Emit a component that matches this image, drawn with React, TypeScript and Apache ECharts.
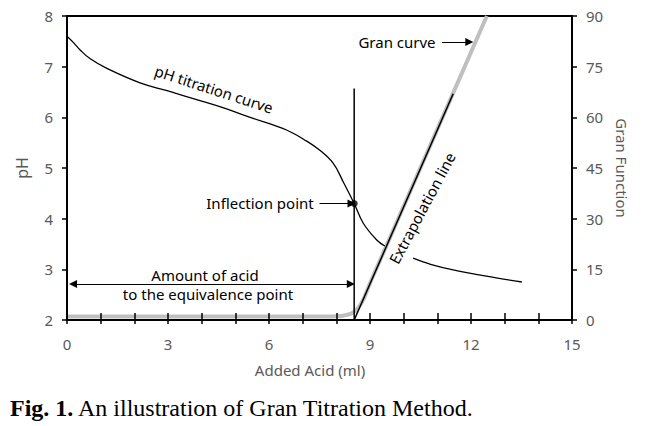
import React, { useEffect, useRef } from "react";
import * as echarts from "echarts";

const phVolumeA = [0, 0.2, 0.39, 0.68, 1.2, 2.17, 3, 4, 4.54, 5.53, 6.52, 7.12, 7.51, 7.91, 8.21, 8.53, 8.8, 9.2, 9.44];
const phValueA = [7.6, 7.47, 7.33, 7.16, 6.96, 6.68, 6.52, 6.32, 6.21, 5.98, 5.75, 5.53, 5.35, 5.09, 4.72, 4.3, 3.91, 3.58, 3.46];
const phVolumeB = [10.28, 10.8, 11.47, 12.5, 13.51];
const phValueB = [3.22, 3.1, 2.99, 2.86, 2.75];
const granVolume = [0, 4, 7, 8.0, 8.3, 8.5, 8.65, 8.8, 9.0, 9.3, 12.47];
const granValue = [1, 1, 1, 1.1, 1.5, 2.2, 3.6, 6, 10.9, 17.7, 90];
const eqVolume = 8.53;
const inflectionPH = 4.3;
const eqLineTopPH = 6.57;
const extrapVolume = [8.53, 11.47];
const extrapValue = [0, 67];
const xTickLabels = [0, 3, 6, 9, 12, 15];

const zip = (a: number[], b: number[]) => a.map((v, i) => [v, b[i]]);

const SANS = "Noto Sans";
const GRAY = "#595959";

export default function App() {
  const ref = useRef<HTMLDivElement>(null);
  useEffect(() => {
    document.body.style.margin = "0";
    const chart = echarts.init(ref.current!, null, { renderer: "svg" });
    const arrowLine = (pts: number[][][], sym: string[]) => ({
      silent: true,
      animation: false,
      symbol: sym,
      symbolSize: 8,
      label: { show: false },
      lineStyle: { color: "#000", width: 1, type: "solid" },
      emphasis: { disabled: true },
      data: pts.map((p) => [{ coord: p[0] }, { coord: p[1] }]),
    });
    const txt = (x: number, y: number, text: string, extra: any = {}, rotDeg = 0) => ({
      type: "text",
      x,
      y,
      rotation: (rotDeg * Math.PI) / 180,
      z: 10,
      style: { text, fontFamily: SANS, fontSize: 15, fill: "#000", textAlign: "center", textVerticalAlign: "middle", ...extra },
    });
    chart.setOption({
      animation: false,
      grid: { left: 67, right: 76, top: 16, bottom: 106, show: true, borderColor: "#000", borderWidth: 2, z: 0 },
      xAxis: [
        {
          type: "value",
          min: 0,
          max: 15,
          interval: 1,
          zlevel: 1,
          z: 6,
          axisLine: { show: true, onZero: false, lineStyle: { color: "#000", width: 2 } },
          axisTick: { show: true, inside: true, length: 7, lineStyle: { color: "#000", width: 1.5 } },
          axisLabel: {
            margin: 16,
            color: GRAY,
            fontFamily: SANS,
            fontSize: 15,
            formatter: (v: number) => (xTickLabels.includes(v) ? String(v) : ""),
          },
          splitLine: { show: false },
        },
        {
          type: "value",
          min: 0,
          max: 15,
          interval: 1,
          zlevel: 1,
          z: 6,
          position: "bottom",
          axisLine: { show: false, onZero: false },
          axisTick: { show: true, inside: false, length: 4, lineStyle: { color: "#000", width: 1.5 } },
          axisLabel: { show: false },
          splitLine: { show: false },
        },
      ],
      yAxis: [
        {
          type: "value",
          min: 2,
          max: 8,
          interval: 1,
          z: 6,
          axisLine: { show: true, onZero: false, lineStyle: { color: "#000", width: 2 } },
          axisTick: { show: true, length: 5, lineStyle: { color: "#000", width: 1.5 } },
          axisLabel: { margin: 14, color: GRAY, fontFamily: SANS, fontSize: 15 },
          splitLine: { show: false },
        },
        {
          type: "value",
          min: 0,
          max: 90,
          interval: 15,
          z: 6,
          position: "right",
          axisLine: { show: true, onZero: false, lineStyle: { color: "#000", width: 2 } },
          axisTick: { show: true, length: 5, lineStyle: { color: "#000", width: 1.5 } },
          axisLabel: { margin: 14, color: GRAY, fontFamily: SANS, fontSize: 15 },
          splitLine: { show: false },
        },
      ],
      series: [
        {
          type: "line",
          name: "Gran curve",
          yAxisIndex: 1,
          z: 1,
          data: zip(granVolume, granValue),
          smooth: 0.25,
          symbol: "none",
          lineStyle: { color: "#bfbfbf", width: 4 },
          silent: true,
        },
        {
          type: "line",
          name: "Extrapolation",
          yAxisIndex: 1,
          data: zip(extrapVolume, extrapValue),
          symbol: "none",
          lineStyle: { color: "#000", width: 1.5 },
          silent: true,
          markLine: arrowLine([[[11.14, 82.3], [11.95, 82.3]]], ["none", "triangle"]),
        },
        {
          type: "line",
          name: "pH A",
          data: zip(phVolumeA, phValueA),
          smooth: 0.4,
          symbol: "none",
          lineStyle: { color: "#000", width: 1.3 },
          silent: true,
        },
        {
          type: "line",
          name: "pH B",
          data: zip(phVolumeB, phValueB),
          smooth: 0.35,
          symbol: "none",
          lineStyle: { color: "#000", width: 1.3 },
          silent: true,
        },
        {
          type: "line",
          name: "Equivalence",
          data: [[eqVolume, 2], [eqVolume, eqLineTopPH]],
          symbol: "none",
          lineStyle: { color: "#000", width: 1.5 },
          silent: true,
          markLine: arrowLine(
            [
              [[7.5, inflectionPH], [8.45, inflectionPH]],
              [[0.18, 2.71], [8.43, 2.71]],
              [[4, 2.71], [0.18, 2.71]],
            ],
            ["none", "triangle"]
          ),
        },
        {
          type: "scatter",
          name: "Inflection",
          data: [[eqVolume, inflectionPH]],
          symbol: "circle",
          symbolSize: 7,
          itemStyle: { color: "#000" },
          silent: true,
        },
      ],
      graphic: [
        txt(22, 168, "pH", { fontSize: 16, fill: GRAY }, 90),
        txt(622, 168, "Gran Function", { fill: GRAY }, -90),
        txt(310, 370, "Added Acid (ml)", { fill: GRAY }),
        txt(214, 89, "pH titration curve", {}, -18),
        txt(397, 42, "Gran curve"),
        txt(260, 203, "Inflection point"),
        txt(205, 275, "Amount of acid"),
        txt(208, 294, "to the equivalence point"),
        txt(422, 208, "Extrapolation line", {}, 62),
        {
          type: "text",
          x: 10,
          y: 408,
          style: {
            text: "{b|Fig. 1.} An illustration of Gran Titration Method.",
            fontFamily: "Liberation Serif",
            fontSize: 24,
            fill: "#000",
            textAlign: "left",
            textVerticalAlign: "middle",
            rich: { b: { fontFamily: "Liberation Serif", fontSize: 24, fontWeight: "bold", fill: "#000" } },
          },
        },
      ],
    });
    return () => chart.dispose();
  }, []);
  return <div ref={ref} style={{ position: "absolute", left: 0, top: 0, width: 648, height: 426 }} />;
}
